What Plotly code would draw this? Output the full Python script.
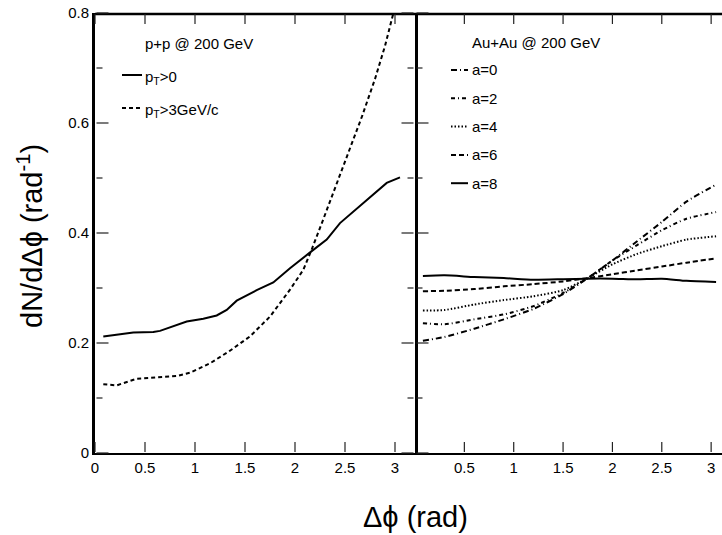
import plotly.graph_objects as go

# ---------------- data ----------------
# p+p @ 200 GeV
pp_all_x = [0.083, 0.383, 0.583, 0.65, 0.917, 1.083, 1.217, 1.317, 1.417, 1.617,
            1.783, 1.95, 2.167, 2.317, 2.45, 2.617, 2.917, 3.05]
pp_all_y = [0.212, 0.219, 0.220, 0.222, 0.239, 0.244, 0.250, 0.260, 0.277, 0.296,
            0.310, 0.336, 0.367, 0.388, 0.418, 0.444, 0.491, 0.501]
pp_hi_x = [0.083, 0.217, 0.417, 0.55, 0.817, 0.95, 1.15, 1.35, 1.55, 1.75, 1.95,
           2.083, 2.167, 2.283, 2.417, 2.55, 2.67, 2.8, 2.9, 2.97, 3.05]
pp_hi_y = [0.125, 0.123, 0.135, 0.137, 0.140, 0.146, 0.163, 0.186, 0.212, 0.248, 0.297,
           0.333, 0.370, 0.425, 0.490, 0.552, 0.612, 0.680, 0.740, 0.790, 0.845]

# Au+Au @ 200 GeV
au_x = [0.08, 0.3, 0.6, 0.9, 1.2, 1.5, 1.75, 2.0, 2.25, 2.5, 2.75, 3.05]
au_a0 = [0.204, 0.211, 0.226, 0.243, 0.262, 0.289, 0.318, 0.350, 0.385, 0.420, 0.457, 0.488]
au_a2 = [0.236, 0.234, 0.243, 0.252, 0.267, 0.291, 0.318, 0.350, 0.378, 0.405, 0.426, 0.438]
au_a4 = [0.259, 0.260, 0.270, 0.278, 0.285, 0.296, 0.318, 0.343, 0.362, 0.376, 0.388, 0.394]
au_a6 = [0.294, 0.295, 0.298, 0.303, 0.307, 0.312, 0.318, 0.325, 0.332, 0.339, 0.346, 0.354]
au_a8 = [0.322, 0.323, 0.320, 0.318, 0.315, 0.316, 0.317, 0.317, 0.316, 0.317, 0.313, 0.311]

x_ticks_left = [0, 0.5, 1, 1.5, 2, 2.5, 3]
x_ticks_right = [0.5, 1, 1.5, 2, 2.5, 3]
y_ticks = [0, 0.2, 0.4, 0.6, 0.8]
y_minor = [0.1, 0.3, 0.5, 0.7]

pp_labels = ["p<sub>T</sub>>0", "p<sub>T</sub>>3GeV/c"]
au_labels = ["a=0", "a=2", "a=4", "a=6", "a=8"]

# ---------------- styles ----------------
FONT = "Liberation Sans, Arial, Helvetica, sans-serif"
pp_dash = ["solid", "4px,3px"]
au_dash = ["6px,3px,1px,3px", "4px,3px,1px,3px", "1.5px,2px", "5px,3px", "solid"]
TICKC = "#222222"

W, H = 722, 535
ML, MR, MT, MB = 95, 0, 13, 82
PW, PH = W - ML - MR, H - MT - MB
SPLIT = 320 / PW
XR_L = [0, 3.2]
XR_R = [0, 3.11]
YR = [0, 0.8]
DOM_L = [0, SPLIT]
DOM_R = [SPLIT, 1]


def px(x):
    return (x - ML) / PW


def py(y):
    return (H - MB - y) / PH


def to_paper(v, rng, dom):
    return dom[0] + (v - rng[0]) / (rng[1] - rng[0]) * (dom[1] - dom[0])


fig = go.Figure()

for xs, ys, d, name in [(pp_all_x, pp_all_y, pp_dash[0], pp_labels[0]),
                        (pp_hi_x, pp_hi_y, pp_dash[1], pp_labels[1])]:
    fig.add_trace(go.Scatter(x=xs, y=ys, mode="lines", name=name,
                             line=dict(color="black", width=2, dash=d),
                             xaxis="x", yaxis="y", showlegend=False))

for ys, d, name in zip([au_a0, au_a2, au_a4, au_a6, au_a8], au_dash, au_labels):
    fig.add_trace(go.Scatter(x=au_x, y=ys, mode="lines", name=name,
                             line=dict(color="black", width=2, dash=d, shape="spline", smoothing=0.6),
                             xaxis="x2", yaxis="y2", showlegend=False))

tickfont = dict(family=FONT, size=15, color="black")

fig.update_layout(
    width=W, height=H,
    margin=dict(l=ML, r=MR, t=MT, b=MB, autoexpand=False),
    paper_bgcolor="white", plot_bgcolor="white",
    xaxis=dict(domain=DOM_L, range=XR_L, anchor="y",
               tickmode="array", tickvals=x_ticks_left,
               ticktext=[f"{v:g}" for v in x_ticks_left],
               ticks="", showline=True, linewidth=2, linecolor="#000000",
               showgrid=False, zeroline=False, tickfont=tickfont),
    xaxis2=dict(domain=DOM_R, range=XR_R, anchor="y2",
                tickmode="array", tickvals=x_ticks_right,
                ticktext=[f"{v:g}" for v in x_ticks_right],
                ticks="", showline=True, linewidth=2, linecolor="#000000",
                showgrid=False, zeroline=False, tickfont=tickfont),
    yaxis=dict(domain=[0, 1], range=YR, anchor="x",
               tickmode="array", tickvals=y_ticks,
               ticktext=[f"{v:g}" for v in y_ticks],
               ticks="", showline=True, linewidth=3, linecolor="#000000", mirror=True,
               showgrid=False, zeroline=False, tickfont=tickfont),
    yaxis2=dict(domain=[0, 1], range=YR, anchor="x2",
                tickmode="array", tickvals=y_ticks, showticklabels=False,
                ticks="", showline=False,
                showgrid=False, zeroline=False),
)

annotations = []
shapes = []

# top frame line
shapes.append(dict(type="line", xref="paper", yref="paper", x0=0, x1=1,
                   y0=1 - 1 / PH, y1=1 - 1 / PH,
                   line=dict(color="black", width=2.5)))

# x ticks (bottom and top), positioned from the tick arrays
XT = 10 / PH
for vals, rng, dom in [(x_ticks_left, XR_L, DOM_L), (x_ticks_right, XR_R, DOM_R)]:
    for v in vals:
        xp = to_paper(v, rng, dom)
        shapes.append(dict(type="line", xref="paper", yref="paper", x0=xp, x1=xp,
                           y0=1 / PH, y1=1 / PH + XT, line=dict(color=TICKC, width=1.2)))
        shapes.append(dict(type="line", xref="paper", yref="paper", x0=xp, x1=xp,
                           y0=1 - 1 / PH, y1=1 - 1 / PH - XT, line=dict(color=TICKC, width=1.2)))

# y ticks: left axis, divider (both sides)
e = 1.5 / PW
for vals, L in [(y_ticks, 12), (y_minor, 6)]:
    d = L / PW
    for v in vals:
        yp = to_paper(v, YR, [0, 1])
        for x0, x1 in [(e, e + d), (SPLIT - e, SPLIT - e - d), (SPLIT + e, SPLIT + e + d)]:
            shapes.append(dict(type="line", xref="paper", yref="paper", x0=x0, x1=x1,
                               y0=yp, y1=yp, line=dict(color=TICKC, width=1.2)))

# axis titles
annotations.append(dict(x=px(415), y=py(517), xref="paper", yref="paper",
                        text="\u0394\u03d5 (rad)", showarrow=False,
                        font=dict(family=FONT, size=29, color="black"),
                        xanchor="center", yanchor="middle"))
annotations.append(dict(x=px(30), y=py(236), xref="paper", yref="paper",
                        text="dN/d\u0394\u03d5 (rad<sup>-1</sup>)", showarrow=False, textangle=-90,
                        font=dict(family=FONT, size=29, color="black"),
                        xanchor="center", yanchor="middle"))

# left legend
annotations.append(dict(x=px(143), y=py(43), xref="paper", yref="paper",
                        text="p+p @ 200 GeV", showarrow=False,
                        font=dict(family=FONT, size=15, color="black"),
                        xanchor="left", yanchor="middle"))
for i, (lab, d) in enumerate(zip(pp_labels, pp_dash)):
    yy = 75 + i * 33
    shapes.append(dict(type="line", xref="paper", yref="paper",
                       x0=px(122), x1=px(142), y0=py(yy), y1=py(yy),
                       line=dict(color="black", width=2, dash=d)))
    annotations.append(dict(x=px(143), y=py(yy + 2), xref="paper", yref="paper",
                            text=lab, showarrow=False,
                            font=dict(family=FONT, size=15, color="black"),
                            xanchor="left", yanchor="middle"))

# right legend
annotations.append(dict(x=px(470), y=py(42), xref="paper", yref="paper",
                        text="Au+Au @ 200 GeV", showarrow=False,
                        font=dict(family=FONT, size=15, color="black"),
                        xanchor="left", yanchor="middle"))
for i, (lab, d) in enumerate(zip(au_labels, au_dash)):
    yy = 70 + i * 28.3
    shapes.append(dict(type="line", xref="paper", yref="paper",
                       x0=px(451), x1=px(468), y0=py(yy), y1=py(yy),
                       line=dict(color="black", width=2, dash=d)))
    annotations.append(dict(x=px(470), y=py(yy), xref="paper", yref="paper",
                            text=lab, showarrow=False,
                            font=dict(family=FONT, size=15, color="black"),
                            xanchor="left", yanchor="middle"))

fig.update_layout(annotations=annotations, shapes=shapes)
fig.write_html("out.html", config={"displayModeBar": False},
               post_script="document.body.style.margin='0';document.body.style.overflow='hidden';")
